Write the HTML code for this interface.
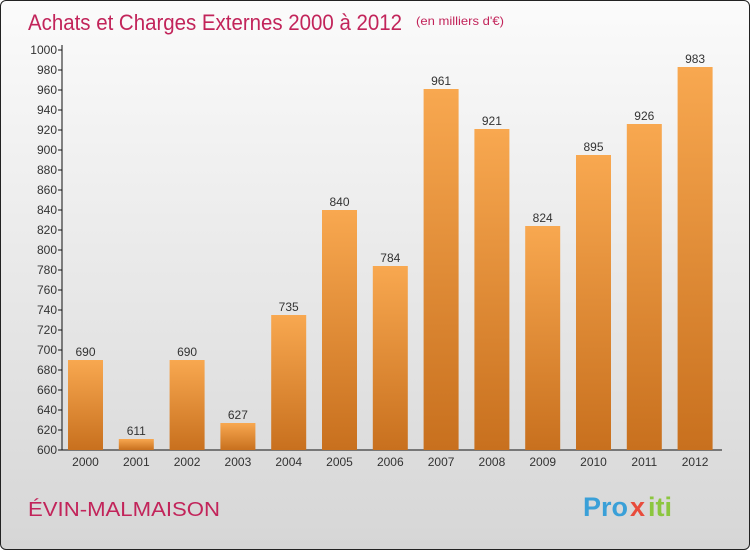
<!DOCTYPE html>
<html><head><meta charset="utf-8"><style>
body{margin:0;width:750px;height:550px;overflow:hidden;font-family:"Liberation Sans",sans-serif}
#wrap{position:absolute;left:0;top:0;width:748px;height:548px;border:1px solid #222;border-radius:6px;background:linear-gradient(#fbfbfb,#d6d6d6);overflow:hidden}
</style></head><body>
<div id="wrap">
<svg width="750" height="550" style="position:absolute;left:-1px;top:-1px">
<defs><linearGradient id="bg" x1="0" y1="0" x2="0" y2="1"><stop offset="0" stop-color="#f8a850"/><stop offset="1" stop-color="#c8701e"/></linearGradient></defs>
<text x="28" y="30" font-size="22" fill="#c2245a" textLength="374" lengthAdjust="spacingAndGlyphs">Achats et Charges Externes 2000 à 2012</text>
<text x="416" y="25" font-size="12" fill="#c2245a" textLength="88" lengthAdjust="spacingAndGlyphs">(en milliers d'€)</text>
<text x="28" y="516" font-size="20" fill="#c2245a" textLength="192" lengthAdjust="spacingAndGlyphs">ÉVIN-MALMAISON</text>
<g font-size="27" font-weight="bold">
<text x="583" y="516" fill="#3aa0d8">Pro</text><text x="630" y="516" fill="#e84c3c">x</text><text x="648" y="516" fill="#8cc63f">iti</text></g>
<g id="axes"></g><g id="bars"></g>
</svg></div>
<script>
const years=["2000","2001","2002","2003","2004","2005","2006","2007","2008","2009","2010","2011","2012"];
const values=[690,611,690,627,735,840,784,961,921,824,895,926,983];
const ticks=[600,620,640,660,680,700,720,740,760,780,800,820,840,860,880,900,920,940,960,980,1000];
const NS="http://www.w3.org/2000/svg";
const y=v=>450-(v-600);
const x=i=>85.5+i*50.8;
function mk(t,a,p){const e=document.createElementNS(NS,t);for(const k in a)e.setAttribute(k,a[k]);p.appendChild(e);return e;}
const ax=document.getElementById('axes'),bg=document.getElementById('bars');
const yl=mk('line',{x1:62,y1:45,x2:62,y2:450,stroke:'#111'},ax);


const xl=mk('line',{x1:62,y1:450,x2:722,y2:450,stroke:'#111'},ax);


ticks.forEach(t=>{
 mk('line',{x1:58,x2:62,y1:y(t),y2:y(t),stroke:'#111'},ax);
 const tx=mk('text',{x:57,y:y(t)+4,'text-anchor':'end','font-size':12,fill:'#333'},ax);
 tx.textContent=t;
 
 
});
years.forEach((yr,i)=>{
 const v=values[i];
 const r=mk('rect',{x:x(i)-17.5,y:y(v),width:35,height:450-y(v),fill:'url(#bg)'},bg);
 
 
 const l=mk('text',{x:x(i),y:y(v)-4,'text-anchor':'middle','font-size':12,fill:'#333'},bg);
 l.textContent=v;
 
 
 const xt=mk('text',{x:x(i),y:466,'text-anchor':'middle','font-size':12,fill:'#333'},ax);
 xt.textContent=yr;
 
 
});
</script>
</body></html>
